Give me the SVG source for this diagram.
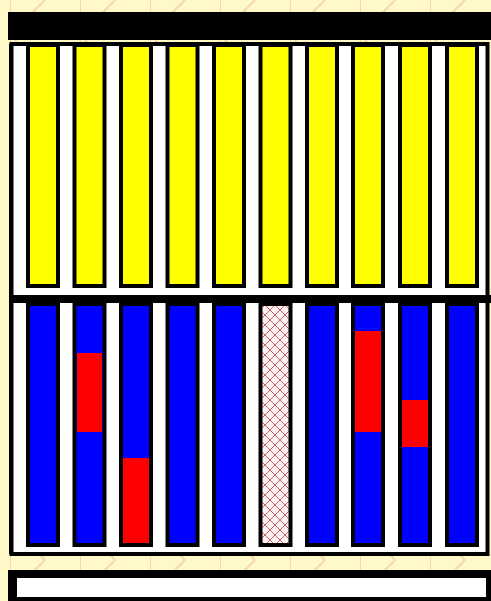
<svg xmlns="http://www.w3.org/2000/svg" width="491" height="601" viewBox="0 0 491 601">
<style>
.col{stroke:#000;stroke-width:4}
.y{fill:#FFFF00}
.b{fill:#0000FF}
.r{fill:#FF0000}
.bg{stroke:#F6D8A8;stroke-width:2;fill:none}
</style>
<defs>
<pattern id="tile" x="10" y="0" width="70" height="70" patternUnits="userSpaceOnUse">
<rect width="70" height="70" fill="#FFF9C8"/>
<path class="bg" d="M0 0V70M0 35L35 0M0 35L35 70"/>
</pattern>
<pattern id="hatch" width="10" height="10" patternUnits="userSpaceOnUse">
<rect width="10" height="10" fill="#FFF2F2"/>
<path d="M0 0L10 10M10 0L0 10" stroke="#C86464" stroke-width="1"/>
</pattern>
</defs>
<rect width="491" height="601" fill="url(#tile)"/>
<rect id="topbar" x="8" y="12" width="483" height="28" fill="#000"/>
<rect id="frame" x="11.5" y="44" width="476" height="510" fill="#fff" stroke="#000" stroke-width="4"/>
<rect x="9" y="44" width="3" height="510" fill="#000"/>
<rect id="separator" x="10" y="295" width="481" height="8" fill="#000"/>
<g id="top-row">
<rect id="t1" class="col y" x="28" y="45" width="30" height="241"/>
<rect id="t2" class="col y" x="74.5" y="45" width="30" height="241"/>
<rect id="t3" class="col y" x="121" y="45" width="30" height="241"/>
<rect id="t4" class="col y" x="167.5" y="45" width="30" height="241"/>
<rect id="t5" class="col y" x="214" y="45" width="30" height="241"/>
<rect id="t6" class="col y" x="260.5" y="45" width="30" height="241"/>
<rect id="t7" class="col y" x="307" y="45" width="30" height="241"/>
<rect id="t8" class="col y" x="353" y="45" width="30" height="241"/>
<rect id="t9" class="col y" x="400" y="45" width="30" height="241"/>
<rect id="t10" class="col y" x="447" y="45" width="30" height="241"/>
</g>
<g id="bottom-row">
<g id="b1"><rect class="col b" x="28" y="304" width="30" height="241"/></g>
<g id="b2"><rect class="col b" x="74.5" y="304" width="30" height="241"/><rect class="r" x="77" y="353" width="25" height="79"/></g>
<g id="b3"><rect class="col b" x="121" y="304" width="30" height="241"/><rect class="r" x="123" y="458" width="26" height="85"/></g>
<g id="b4"><rect class="col b" x="167.5" y="304" width="30" height="241"/></g>
<g id="b5"><rect class="col b" x="214" y="304" width="30" height="241"/></g>
<g id="b6"><rect class="col" fill="url(#hatch)" x="260.5" y="304" width="30" height="241"/></g>
<g id="b7"><rect class="col b" x="307" y="304" width="30" height="241"/></g>
<g id="b8"><rect class="col b" x="353" y="304" width="30" height="241"/><rect class="r" x="355" y="331" width="26" height="101"/></g>
<g id="b9"><rect class="col b" x="400" y="304" width="30" height="241"/><rect class="r" x="402" y="400" width="26" height="47"/></g>
<g id="b10"><rect class="col b" x="447" y="304" width="30" height="241"/></g>
</g>
<g id="bottom-box">
<rect x="8" y="570" width="483" height="31" fill="#000"/>
<rect x="17" y="578" width="469" height="19" fill="#fff"/>
</g>
<g id="connectors"/>
</svg>
